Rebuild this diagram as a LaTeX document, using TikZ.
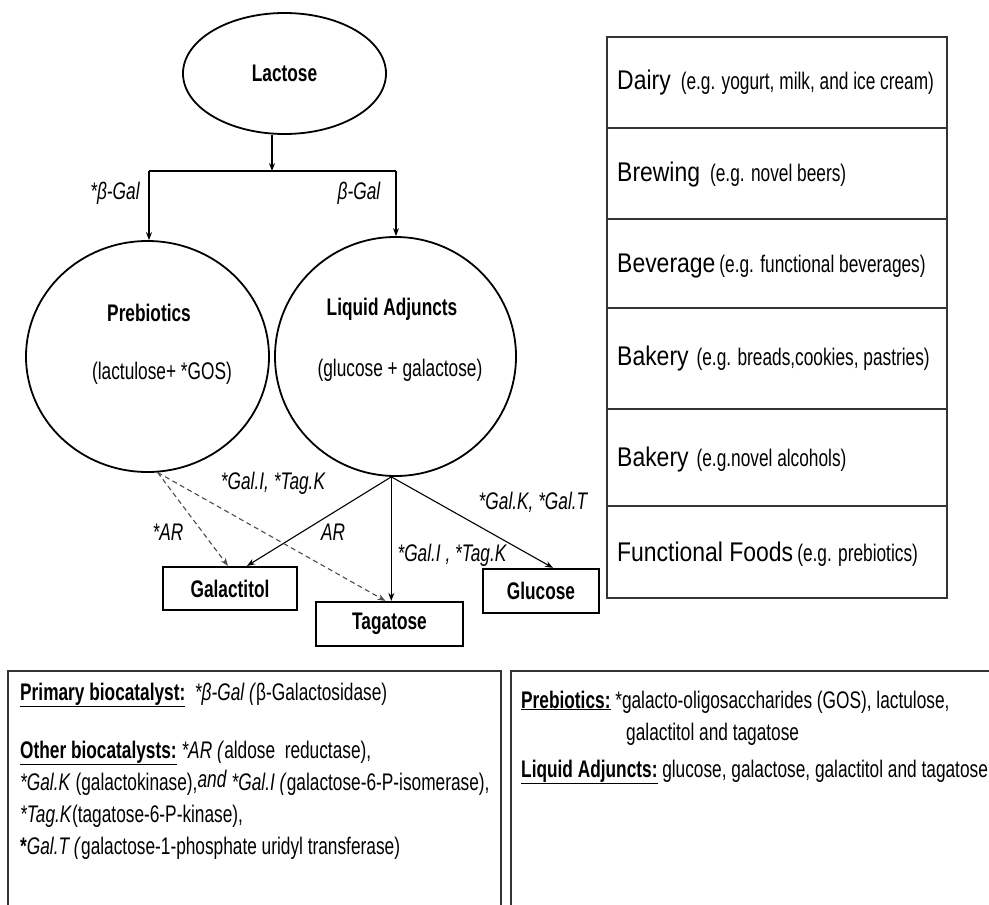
\documentclass[tikz,border=0pt]{standalone}
\usepackage{fontspec}
\setmainfont{Liberation Sans}
\newfontfamily\nfont[FakeStretch=0.72]{Liberation Sans}
\newfontfamily\hfont[FakeStretch=0.85]{Liberation Sans}
\newcommand{\fsz}{\fontsize{24}{28}\selectfont}
\newcommand{\hsz}{\fontsize{27}{30}\selectfont}
\usetikzlibrary{arrows.meta,shapes.geometric}
\begin{document}
\begin{tikzpicture}[x=1pt,y=-1pt,
  txt/.style={font=\nfont\fsz, inner sep=0pt},
  btxt/.style={font=\nfont\fsz\bfseries, inner sep=0pt},
  itxt/.style={font=\nfont\fsz\itshape, inner sep=0pt},
  oval/.style={ellipse, draw, line width=1.8pt, inner sep=0pt},
  prod/.style={draw, line width=2.2pt, inner sep=0pt, font=\nfont\fsz\bfseries},
  conn/.style={line width=1.1pt},
  arr/.style={conn, -{Stealth[length=8pt,width=6pt]}},
  darr/.style={line width=1.1pt, black!70, dash pattern=on 5pt off 3.5pt, -{Stealth[length=8pt,width=6pt]}},
  tline/.style={line width=1.3pt, black!80},
  rowtxt/.style={anchor=west, inner sep=0pt}
]
\useasboundingbox (0,0) rectangle (989,905);

% ---- Lactose and branches
\node[oval, minimum width=203pt, minimum height=121pt, font=\nfont\fsz\bfseries] (lac) at (284.5,73.5) {Lactose};
\coordinate (jc) at (272,171);
\coordinate (jl) at (149,171);
\coordinate (jr) at (396,171);

\node[oval, minimum width=243pt, minimum height=231pt] (pre) at (147.5,356.5) {};
\node[oval, minimum width=241pt, minimum height=239pt] (liq) at (395.5,356.5) {};
\node[btxt] (pret) at (149,313) {Prebiotics};
\node[txt] (pres) at (162,373) {(lactulose+ *GOS)};
\node[btxt] (liqt) at (392,309) {Liquid Adjuncts};
\node[txt] (liqs) at (400,370) {(glucose + galactose)};

\draw[arr] (jc |- lac.south) -- (jc);
\draw[conn] (jl) -- (jr);
\draw[arr] (jl) -- (jl |- pre.north);
\draw[arr] (jr) -- (jr |- liq.north);
\node[itxt] (bg1) at (115,193) {*β-Gal};
\node[itxt] (bg2) at (359,193) {β-Gal};

% ---- products
\node[prod, minimum width=134pt, minimum height=43pt] (gal) at (230,588.5) {Galactitol};
\node[prod, minimum width=147pt, minimum height=44pt] (tag) at (389.5,624) {Tagatose};
\node[prod, minimum width=116pt, minimum height=44pt] (glu) at (541,591) {Glucose};

\draw[arr] (liq.268) -- ([xshift=17pt]gal.north);
\draw[arr] (liq.268) -- (liq.268 |- tag.north);
\draw[arr] (liq.268) -- ([xshift=12pt]glu.north);
\draw[darr] (pre.275) -- ([xshift=-2pt]gal.north);
\draw[darr] (pre.275) -- ([xshift=-4pt]tag.north);

\node[itxt] (l1) at (273,483) {*Gal.I, *Tag.K};
\node[itxt] (l2) at (168,532) {*AR};
\node[itxt] (l3) at (333,532) {AR};
\node[itxt] (l4) at (452,555) {*Gal.I , *Tag.K};
\node[itxt] (l5) at (533,502) {*Gal.K, *Gal.T};

% ---- application table
\draw[tline] (607,37) rectangle (947,598);
\foreach \yy in {128,219,308,409,506} \draw[tline] (607,\yy) -- (947,\yy);
\node[rowtxt] (r1) at (617,83) {{\hfont\hsz Dairy}\hspace{10pt}{\nfont\fsz (e.g. yogurt, milk, and ice cream)}};
\node[rowtxt] (r2) at (617,175) {{\hfont\hsz Brewing}\hspace{10pt}{\nfont\fsz (e.g. novel beers)}};
\node[rowtxt] (r3) at (617,266) {{\hfont\hsz Beverage}\hspace{4pt}{\nfont\fsz (e.g. functional beverages)}};
\node[rowtxt] (r4) at (617,359) {{\hfont\hsz Bakery}\hspace{8pt}{\nfont\fsz (e.g. breads,cookies, pastries)}};
\node[rowtxt] (r5) at (617,460) {{\hfont\hsz Bakery}\hspace{8pt}{\nfont\fsz (e.g.novel alcohols)}};
\node[rowtxt] (r6) at (617,554) {{\hfont\hsz Functional Foods}\hspace{4pt}{\nfont\fsz (e.g. prebiotics)}};

% ---- legend boxes
\draw[tline] (8,905) -- (8,671) -- (501,671) -- (501,905);
\draw[tline] (511,905) -- (511,671) -- (989,671);

\node[txt, anchor=base west] (p1) at (20,700) {\underline{\textbf{Primary biocatalyst:}}\ \ \textit{*β-Gal (}β-Galactosidase)};
\node[txt, anchor=base west] (p2) at (20,758) {\underline{\textbf{Other biocatalysts:}} \textit{*AR (}aldose\ \ reductase),};
\node[txt, anchor=base west] (p3) at (20,790) {\textit{*Gal.K} (galactokinase),\raisebox{3pt}{\textit{and}} \textit{*Gal.I (}galactose-6-P-isomerase),};
\node[txt, anchor=base west] (p4) at (20,822) {\textit{*Tag.K}(tagatose-6-P-kinase),};
\node[txt, anchor=base west] (p5) at (20,854) {\textbf{*}\textit{Gal.T (}galactose-1-phosphate uridyl transferase)};

\node[txt, anchor=base west] (q1) at (521,708) {\underline{\textbf{Prebiotics:}} *galacto-oligosaccharides (GOS), lactulose,};
\node[txt, anchor=base west] (q2) at (626,740) {galactitol and tagatose};
\node[txt, anchor=base west] (q3) at (521,777) {\underline{\textbf{Liquid Adjuncts:}} glucose, galactose, galactitol and tagatose};
\end{tikzpicture}
\end{document}
